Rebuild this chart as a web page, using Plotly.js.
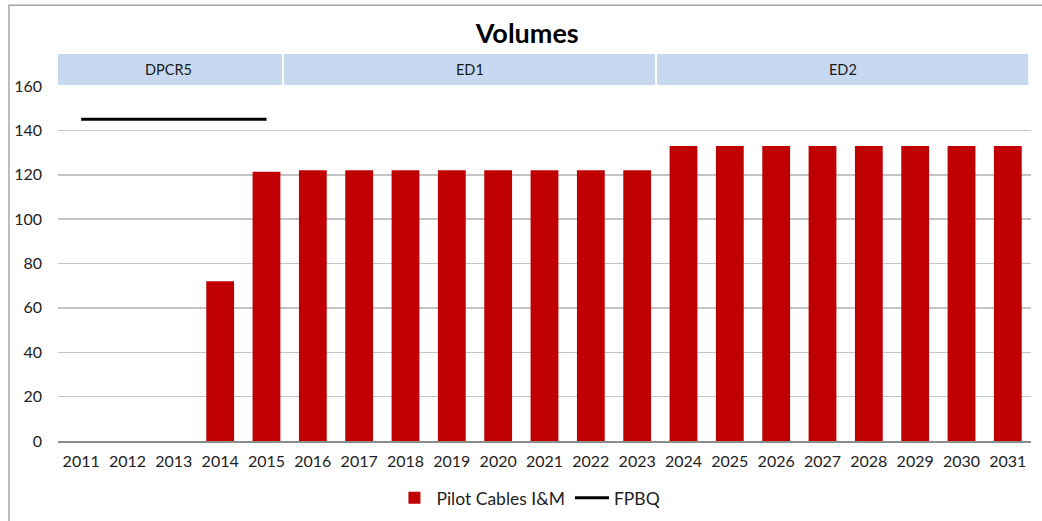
<!DOCTYPE html>
<html>
<head>
<meta charset="utf-8">
<script src="https://cdn.plot.ly/plotly-3.0.1.min.js"></script>
<style>html,body{margin:0;padding:0;background:#fff;}#chart{width:1042px;height:521px;}</style>
</head>
<body>
<div id="chart"></div>
<script>
const years = ['2011','2012','2013','2014','2015','2016','2017','2018','2019','2020','2021','2022','2023','2024','2025','2026','2027','2028','2029','2030','2031'];
const pilotCables = [null,null,null,72,121.4,122,122,122,122,122,122,122,122,133,133,133,133,133,133,133,133];
const fpbq = [145,145,145,145,145,null,null,null,null,null,null,null,null,null,null,null,null,null,null,null,null];
const periods = ['DPCR5','ED1','ED2'];
const periodStart = [-0.565, 4.378, 12.43];
const periodEnd = [4.335, 12.386, 20.44];

const font = 'Lato, "Open Sans", sans-serif';

const traces = [
  {type:'bar', name:'Pilot Cables I&M', x:years, y:pilotCables, marker:{color:'#C00000'}, width:0.6},
  {type:'scatter', mode:'lines', name:'FPBQ', x:years, y:fpbq, line:{color:'#000000', width:3}}
];

const shapes = [
  {type:'rect', xref:'paper', yref:'paper', x0:-0.0504, x1:1.05, y0:-0.3, y1:1.2276, line:{color:'#a6a6a6', width:1.5}, fillcolor:'rgba(0,0,0,0)', layer:'below'}
];
const annotations = [];
periods.forEach((p,i)=>{
  shapes.push({type:'rect', xref:'x', yref:'paper', x0:periodStart[i], x1:periodEnd[i], y0:1.003, y1:1.090, fillcolor:'#C6D9F1', line:{width:0}});
  annotations.push({xref:'x', yref:'paper', x:(periodStart[i]+periodEnd[i])/2, y:1.0465, text:p, showarrow:false, font:{family:font, size:14.5, color:'#1a1a1a'}, yanchor:'middle'});
});

const layout = {
  width:1042, height:521,
  margin:{l:58, r:11, t:86, b:80, autoexpand:false},
  paper_bgcolor:'#fff', plot_bgcolor:'#fff',
  title:{text:'<b>Volumes</b>', x:0.506, xanchor:'center', y:0.935, yanchor:'middle', font:{family:font, size:27, color:'#000'}},
  font:{family:font, size:16, color:'#222'},
  showlegend:true,
  legend:{orientation:'h', x:0.484, xanchor:'center', y:-0.16, yanchor:'middle', font:{family:font, size:17.5, color:'#222'}, traceorder:'normal', itemwidth:34},
  bargap:0.4,
  xaxis:{type:'category', range:[-0.5,20.5], showgrid:false, showline:true, linecolor:'#8c8c8c', linewidth:1.5, ticks:'', ticklabelstandoff:5, tickfont:{family:font, size:16, color:'#222'}, fixedrange:true},
  yaxis:{range:[0,160], dtick:20, showgrid:true, gridcolor:'#c4c4c4', gridwidth:1.5, zeroline:false, showline:false, ticks:'', ticklabelstandoff:15, tickfont:{family:font, size:16, color:'#222'}, fixedrange:true},
  shapes:shapes,
  annotations:annotations
};

Plotly.newPlot('chart', traces, layout, {displayModeBar:false, staticPlot:true});
</script>
</body>
</html>
